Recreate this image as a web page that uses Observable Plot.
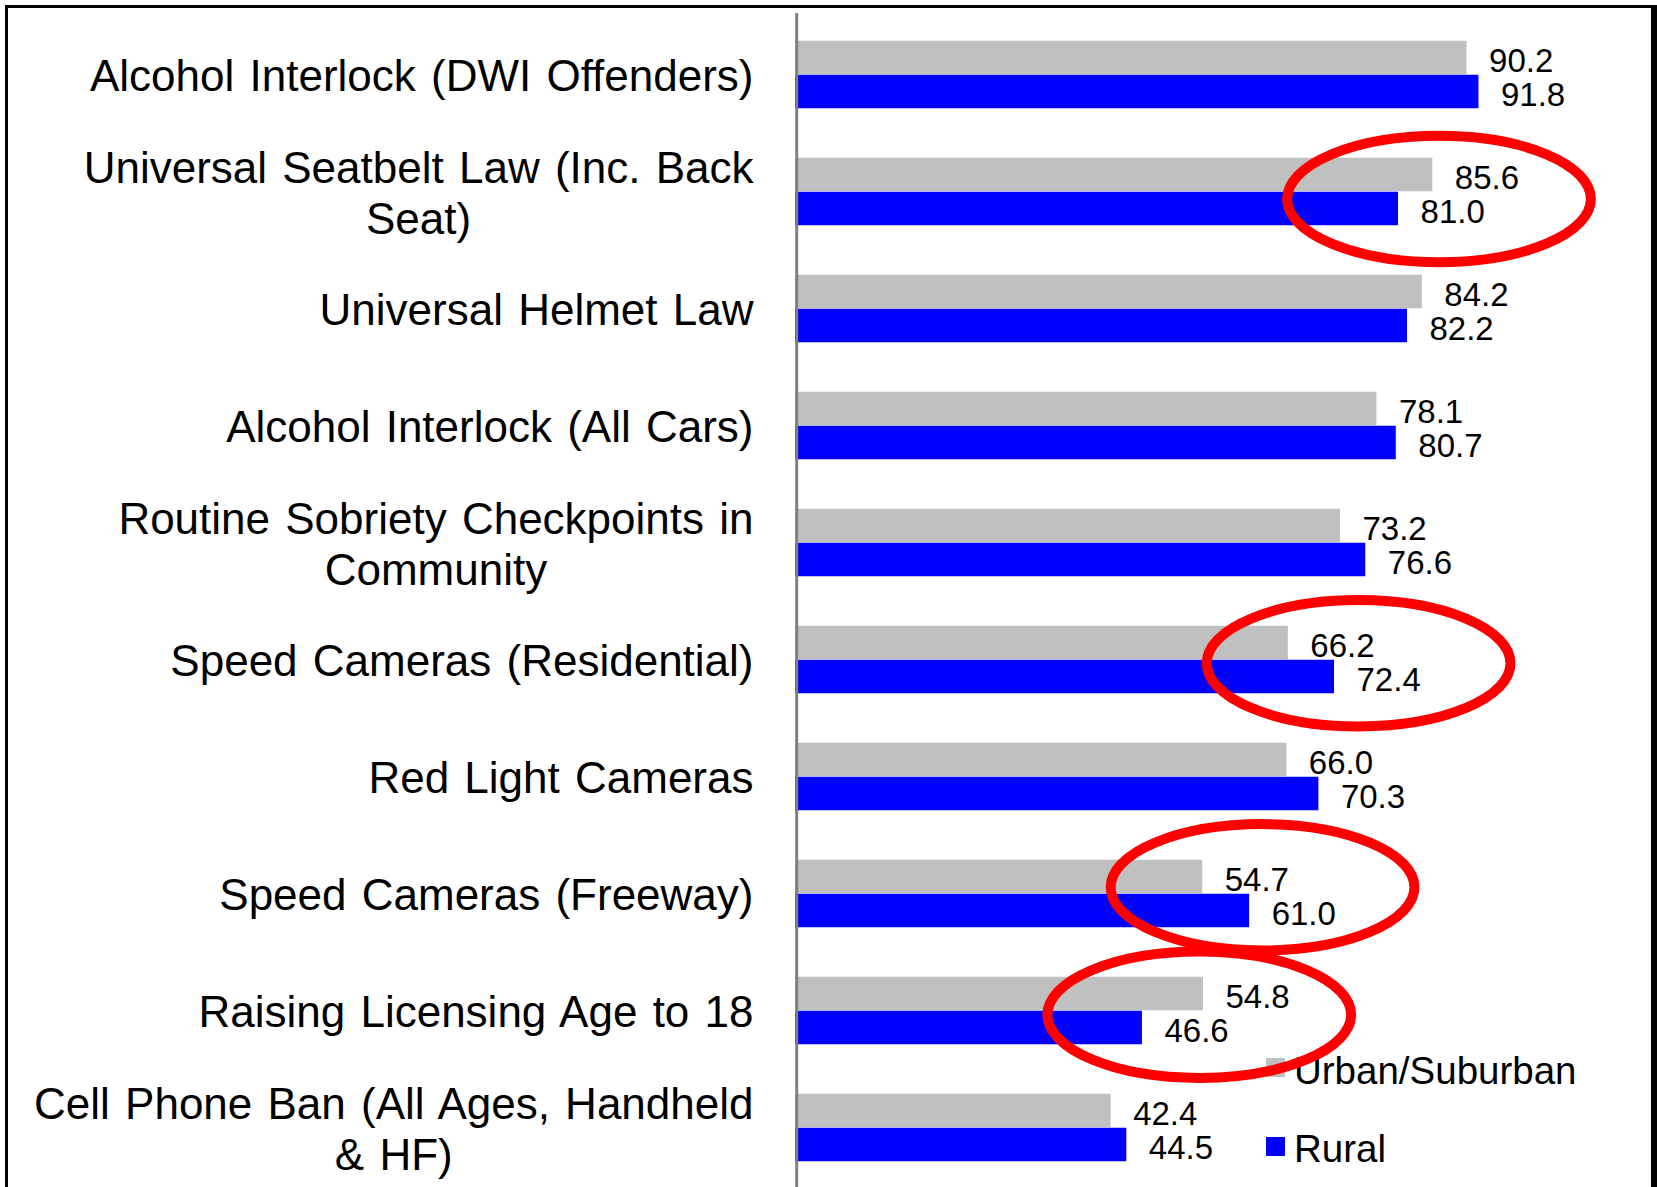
<!DOCTYPE html>
<html>
<head>
<meta charset="utf-8">
<script src="https://cdn.jsdelivr.net/npm/d3@7"></script>
<script src="https://cdn.jsdelivr.net/npm/@observablehq/plot@0.6"></script>
<style>
  html, body { margin: 0; padding: 0; background: #fff; overflow: hidden; }
  #wrap { position: relative; width: 1657px; height: 1187px; overflow: hidden; }
  #frame { position: absolute; left: 5px; top: 5px; width: 1643px; height: 1400px;
           border-left: 3px solid #000; border-top: 3px solid #000; border-right: 6px solid #000;
           box-sizing: content-box; z-index: 0; }
  #legend { position: absolute; left: 0; top: 0; z-index: 1;
            font-family: "Liberation Sans", Arial, sans-serif; font-size: 38.5px; color: #000; }
  #legend .sw { position: absolute; width: 19px; height: 19px; }
  #legend .lb { position: absolute; line-height: 38px; white-space: nowrap; }
  #chart { position: absolute; left: 0; top: 0; z-index: 2; }
</style>
</head>
<body>
<div id="wrap">
  <div id="frame"></div>
  <div id="legend"></div>
  <div id="chart"></div>
</div>
<script>
// ---- data ----
const categories = [
  "Alcohol Interlock (DWI Offenders)",
  "Universal Seatbelt Law (Inc. Back\nSeat)",
  "Universal Helmet Law",
  "Alcohol Interlock (All Cars)",
  "Routine Sobriety Checkpoints in\nCommunity",
  "Speed Cameras (Residential)",
  "Red Light Cameras",
  "Speed Cameras (Freeway)",
  "Raising Licensing Age to 18",
  "Cell Phone Ban (All Ages, Handheld\n& HF)"
];
const urban = [90.2, 85.6, 84.2, 78.1, 73.2, 66.2, 66.0, 54.7, 54.8, 42.4];
const rural = [91.8, 81.0, 82.2, 80.7, 76.6, 72.4, 70.3, 61.0, 46.6, 44.5];
const seriesNames = ["Urban/Suburban", "Rural"];
const seriesColors = ["#C0C0C0", "#0000FF"];

// hand-drawn red ellipses (annotation): which category, centre value on the x axis
const circledCategories = [categories[1], categories[5], categories[7], categories[8]];
const circledValues = [86.5, 75.7, 62.8, 54.3];
const circledShift = [0.064, 0.032, -0.053, 0.036];   // vertical shift, fraction of band

// ---- build table ----
const rows = categories.flatMap((c, i) => [
  {category: c, series: seriesNames[0], value: urban[i]},
  {category: c, series: seriesNames[1], value: rural[i]}
]);
const urbanRows = rows.filter(d => d.series === seriesNames[0]);
const ruralRows = rows.filter(d => d.series === seriesNames[1]);

const W = 1657, H = 1187;
const yTop = 13, yBottom = 1188;
const band = (yBottom - yTop) / categories.length;
const barH = 34;
const half = band / 2;

const chart = Plot.plot({
  width: W,
  height: H,
  marginLeft: 795,
  marginRight: 117.5,
  marginTop: yTop,
  marginBottom: 0,
  style: {background: "transparent", fontFamily: '"Liberation Sans", Arial, sans-serif', color: "#000", overflow: "visible"},
  x: {domain: [0, 100], axis: null},
  y: {domain: categories, padding: 0, range: [yTop, yBottom]},
  color: {domain: seriesNames, range: seriesColors},
  marks: [
    Plot.barX(urbanRows, {x: "value", y: "category", fill: "series", insetTop: half - barH, insetBottom: half}),
    Plot.barX(ruralRows, {x: "value", y: "category", fill: "series", insetTop: half, insetBottom: half - barH}),
    Plot.ruleX([0], {stroke: "#808080", strokeWidth: 3, dx: 1.2}),
    Plot.text(urbanRows, {x: "value", y: "category", text: d => d.value.toFixed(1), textAnchor: "start",
      dx: 22, dy: -13.2, fontSize: 33, fill: "#000"}),
    Plot.text(ruralRows, {x: "value", y: "category", text: d => d.value.toFixed(1), textAnchor: "start",
      dx: 22, dy: 20.3, fontSize: 33, fill: "#000"}),
    Plot.axisY({tickSize: 0, tickPadding: 42, fontSize: 44, lineHeight: 1.16, label: null})
  ]
});

document.getElementById("chart").appendChild(chart);

// Excel-like wider word spacing in the category labels
const tickLabels = chart.querySelector('g[aria-label="y-axis tick label"]');
if (tickLabels) tickLabels.style.wordSpacing = "3px";

// centre the lines of multi-line category labels on each other (block stays right-aligned)
chart.querySelectorAll('g[aria-label="y-axis tick label"] text').forEach(t => {
  const spans = t.querySelectorAll("tspan");
  if (spans.length < 2) return;
  const widths = Array.from(spans, s => s.getComputedTextLength());
  const maxW = Math.max(...widths);
  const x0 = +spans[0].getAttribute("x") || 0;
  t.setAttribute("text-anchor", "middle");
  spans.forEach(s => s.setAttribute("x", x0 - maxW / 2));
});

// red ellipses placed through the chart's own scales
const sx = chart.scale("x"), sy = chart.scale("y");
const rxUnits = 20.4;
const g = d3.select(chart).append("g").attr("aria-label", "annotations");
circledCategories.forEach((c, i) => {
  const cx = sx.apply(circledValues[i]);
  const cy = sy.apply(c) + sy.bandwidth / 2 + circledShift[i] * sy.bandwidth;
  g.append("ellipse")
    .attr("cx", cx).attr("cy", cy)
    .attr("rx", sx.apply(circledValues[i] + rxUnits) - cx)
    .attr("ry", 0.54 * sy.bandwidth)
    .attr("fill", "none").attr("stroke", "#FF0000").attr("stroke-width", 10);
});

// legend (HTML, under the transparent SVG so the ellipse passes over it)
const legend = document.getElementById("legend");
const legendTops = [1058, 1137];
const textTops = [1052, 1130];
seriesNames.forEach((name, i) => {
  const sw = document.createElement("div");
  sw.className = "sw";
  sw.style.left = "1266px";
  sw.style.top = legendTops[i] + "px";
  sw.style.background = seriesColors[i];
  legend.appendChild(sw);
  const lb = document.createElement("div");
  lb.className = "lb";
  lb.style.left = "1294px";
  lb.style.top = textTops[i] + "px";
  lb.textContent = name;
  legend.appendChild(lb);
});
</script>
</body>
</html>
